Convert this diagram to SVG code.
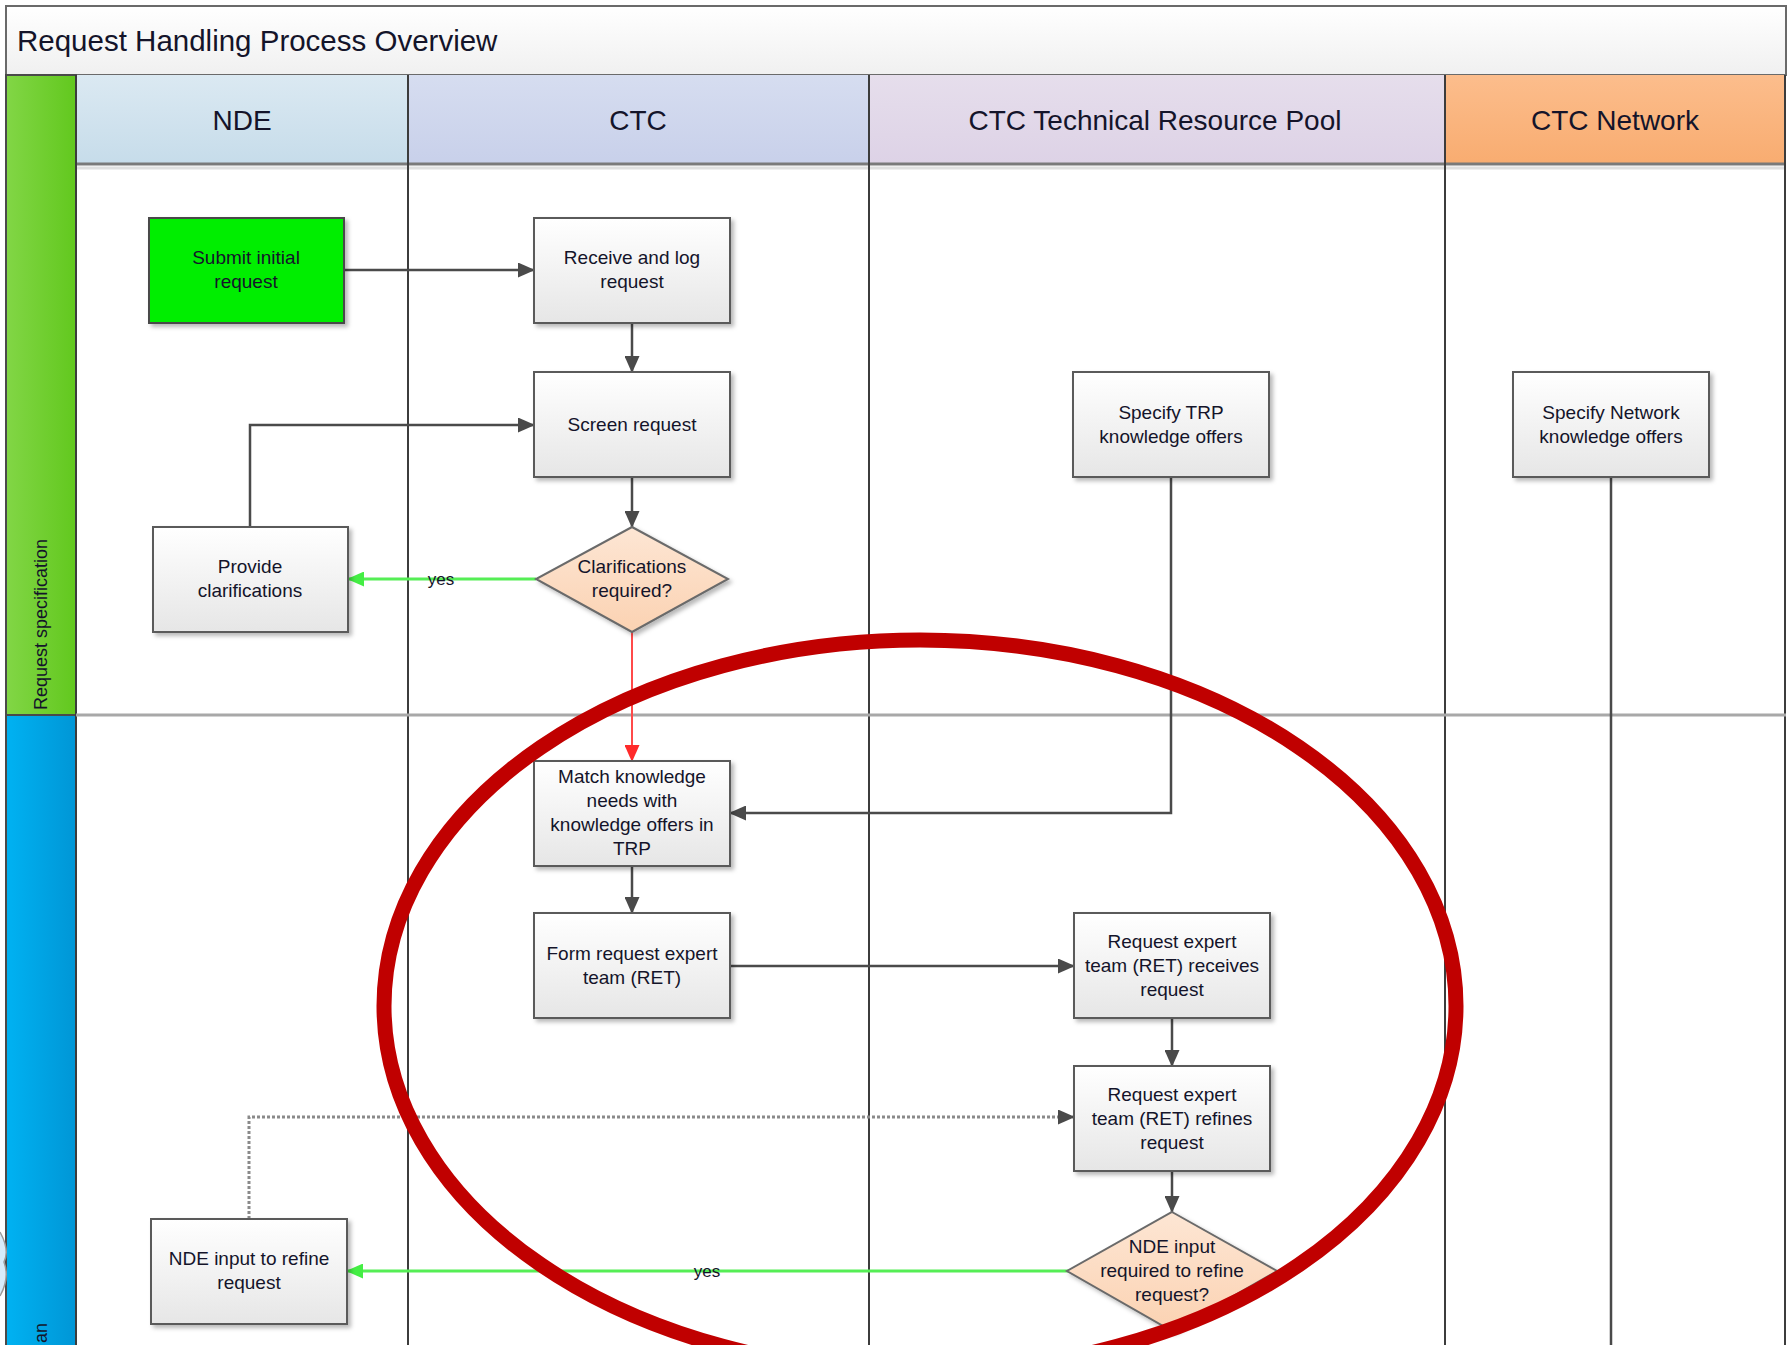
<svg xmlns="http://www.w3.org/2000/svg" width="1788" height="1345" viewBox="0 0 1788 1345">
<defs>
<style>
.t{font-family:"Liberation Sans",Arial,sans-serif;fill:#14142a;}
.node{font-size:19px;text-anchor:middle;}
.hdr{font-size:28px;text-anchor:middle;}
.box{fill:url(#gBox);stroke:#5a5a5a;stroke-width:2;filter:url(#sh);}
.dia{fill:url(#gDia);stroke:#6a6a6a;stroke-width:2;filter:url(#sh);}
.c{fill:none;stroke:#4a4a4a;stroke-width:2.5;}
.cg{fill:none;stroke:#55ee55;stroke-width:3;}
.cr{fill:none;stroke:#ff4a4a;stroke-width:2;}
.cd{fill:none;stroke:#8a8a8a;stroke-width:3;stroke-dasharray:3 2;}
.lane{stroke:#3c3c3c;stroke-width:2;}
</style>
<linearGradient id="gBox" x1="0" y1="0" x2="0" y2="1"><stop offset="0" stop-color="#ffffff"/><stop offset="1" stop-color="#e6e6e6"/></linearGradient>
<linearGradient id="gDia" x1="0" y1="0" x2="0" y2="1"><stop offset="0" stop-color="#fde6d4"/><stop offset="1" stop-color="#fbd2b2"/></linearGradient>
<linearGradient id="gTitle" x1="0" y1="0" x2="0" y2="1"><stop offset="0" stop-color="#ffffff"/><stop offset="1" stop-color="#f0f0f0"/></linearGradient>
<linearGradient id="gGreen" x1="0" y1="0" x2="1" y2="0"><stop offset="0" stop-color="#82d646"/><stop offset="1" stop-color="#62c81e"/></linearGradient>
<linearGradient id="gBlue" x1="0" y1="0" x2="1" y2="0"><stop offset="0" stop-color="#00b2f2"/><stop offset="1" stop-color="#0096d6"/></linearGradient>
<linearGradient id="gNDE" x1="0" y1="0" x2="0" y2="1"><stop offset="0" stop-color="#dbe9f2"/><stop offset="1" stop-color="#c6dcea"/></linearGradient>
<linearGradient id="gCTC" x1="0" y1="0" x2="0" y2="1"><stop offset="0" stop-color="#d6ddf0"/><stop offset="1" stop-color="#c8d0ea"/></linearGradient>
<linearGradient id="gTRP" x1="0" y1="0" x2="0" y2="1"><stop offset="0" stop-color="#e6deec"/><stop offset="1" stop-color="#ddd2e6"/></linearGradient>
<linearGradient id="gNET" x1="0" y1="0" x2="0" y2="1"><stop offset="0" stop-color="#fcbd8c"/><stop offset="1" stop-color="#f8ac70"/></linearGradient>
<filter id="sh" x="-10%" y="-10%" width="130%" height="130%"><feDropShadow dx="3" dy="3" stdDeviation="2" flood-color="#000" flood-opacity="0.28"/></filter>
<marker id="aK" markerUnits="userSpaceOnUse" markerWidth="17" markerHeight="15" refX="16" refY="7.5" orient="auto"><path d="M0,0 L17,7.5 L0,15 Z" fill="#4a4a4a"/></marker>
<marker id="aG" markerUnits="userSpaceOnUse" markerWidth="17" markerHeight="15" refX="16" refY="7.5" orient="auto"><path d="M0,0 L17,7.5 L0,15 Z" fill="#44ee44"/></marker>
<marker id="aR" markerUnits="userSpaceOnUse" markerWidth="17" markerHeight="15" refX="16" refY="7.5" orient="auto"><path d="M0,0 L17,7.5 L0,15 Z" fill="#ff2a2a"/></marker>
</defs>

<rect x="0" y="0" width="1788" height="1345" fill="#ffffff"/>

<g id="frame">
<rect x="6" y="6" width="1780" height="69" fill="url(#gTitle)" stroke="#6a6a6a" stroke-width="2"/>
<text class="t" x="17" y="51" font-size="29.5">Request Handling Process Overview</text>
<rect x="6" y="75" width="70" height="640" fill="url(#gGreen)" stroke="#4a4a4a" stroke-width="2"/>
<rect x="6" y="715" width="70" height="640" fill="url(#gBlue)" stroke="#4a4a4a" stroke-width="2"/>
<text class="t" font-size="18" transform="translate(47,710) rotate(-90)">Request specification</text>
<text class="t" font-size="18" text-anchor="end" transform="translate(47,1323) rotate(-90)">an</text>
<path d="M0,1232 Q10,1250 4,1262 Q10,1278 0,1296" fill="#d8ecfa" stroke="#9a9a9a" stroke-width="1.5"/>
</g>

<g id="headers">
<rect x="76" y="75" width="332" height="90" fill="url(#gNDE)"/>
<rect x="408" y="75" width="461" height="90" fill="url(#gCTC)"/>
<rect x="869" y="75" width="576" height="90" fill="url(#gTRP)"/>
<rect x="1445" y="75" width="341" height="90" fill="url(#gNET)"/>
<line x1="76" y1="164" x2="1786" y2="164" stroke="#7a7a7a" stroke-width="3"/>
<line x1="76" y1="168" x2="1786" y2="168" stroke="#e0e0e0" stroke-width="3"/>
<text class="t hdr" x="242" y="130">NDE</text>
<text class="t hdr" x="638" y="130">CTC</text>
<text class="t hdr" x="1155" y="130">CTC Technical Resource Pool</text>
<text class="t hdr" x="1615" y="130">CTC Network</text>
</g>

<g id="lanes">
<line class="lane" x1="76" y1="75" x2="76" y2="1345"/>
<line class="lane" x1="408" y1="75" x2="408" y2="1345"/>
<line class="lane" x1="869" y1="75" x2="869" y2="1345"/>
<line class="lane" x1="1445" y1="75" x2="1445" y2="1345"/>
<line class="lane" x1="1785" y1="75" x2="1785" y2="1345" stroke="#6a6a6a"/>
<line x1="76" y1="715" x2="1786" y2="715" stroke="#a8a8a8" stroke-width="3"/>
</g>

<g id="connectors">
<path class="c" d="M344,270 L534,270" marker-end="url(#aK)"/>
<path class="c" d="M632,323 L632,372" marker-end="url(#aK)"/>
<path class="c" d="M632,477 L632,527" marker-end="url(#aK)"/>
<path class="cg" d="M536,579 L348,579" marker-end="url(#aG)"/>
<text class="t" x="441" y="585" font-size="17" text-anchor="middle">yes</text>
<path class="c" d="M250,527 L250,425 L534,425" marker-end="url(#aK)"/>
<path class="cr" d="M632,632 L632,761" marker-end="url(#aR)"/>
<path class="c" d="M1171,477 L1171,813 L730,813" marker-end="url(#aK)"/>
<path class="c" d="M1611,477 L1611,1345" stroke-width="2"/>
<path class="c" d="M632,866 L632,913" marker-end="url(#aK)"/>
<path class="c" d="M730,966 L1074,966" marker-end="url(#aK)"/>
<path class="c" d="M1172,1018 L1172,1066" marker-end="url(#aK)"/>
<path class="cd" d="M249,1219 L249,1117 L1074,1117" marker-end="url(#aK)"/>
<path class="c" d="M1172,1171 L1172,1212" marker-end="url(#aK)"/>
<path class="cg" d="M1069,1271 L347,1271" marker-end="url(#aG)"/>
<text class="t" x="707" y="1277" font-size="17" text-anchor="middle">yes</text>
</g>

<g id="n_submit">
<rect x="149" y="218" width="195" height="105" fill="#00ee00" stroke="#4a4a4a" stroke-width="2" filter="url(#sh)"/>
<text class="t node" x="246" y="264">Submit initial</text>
<text class="t node" x="246" y="288">request</text>
</g>
<g id="n_receive">
<rect class="box" x="534" y="218" width="196" height="105"/>
<text class="t node" x="632" y="264">Receive and log</text>
<text class="t node" x="632" y="288">request</text>
</g>
<g id="n_screen">
<rect class="box" x="534" y="372" width="196" height="105"/>
<text class="t node" x="632" y="431">Screen request</text>
</g>
<g id="n_clarif">
<polygon class="dia" points="632,527 728,579 632,632 536,579"/>
<text class="t node" x="632" y="573">Clarifications</text>
<text class="t node" x="632" y="597">required?</text>
</g>
<g id="n_provide">
<rect class="box" x="153" y="527" width="195" height="105"/>
<text class="t node" x="250" y="573">Provide</text>
<text class="t node" x="250" y="597">clarifications</text>
</g>
<g id="n_trp">
<rect class="box" x="1073" y="372" width="196" height="105"/>
<text class="t node" x="1171" y="419">Specify TRP</text>
<text class="t node" x="1171" y="443">knowledge offers</text>
</g>
<g id="n_net">
<rect class="box" x="1513" y="372" width="196" height="105"/>
<text class="t node" x="1611" y="419">Specify Network</text>
<text class="t node" x="1611" y="443">knowledge offers</text>
</g>
<g id="n_match">
<rect class="box" x="534" y="761" width="196" height="105"/>
<text class="t node" x="632" y="783">Match knowledge</text>
<text class="t node" x="632" y="807">needs with</text>
<text class="t node" x="632" y="831">knowledge offers in</text>
<text class="t node" x="632" y="855">TRP</text>
</g>
<g id="n_form">
<rect class="box" x="534" y="913" width="196" height="105"/>
<text class="t node" x="632" y="960">Form request expert</text>
<text class="t node" x="632" y="984">team (RET)</text>
</g>
<g id="n_ret_recv">
<rect class="box" x="1074" y="913" width="196" height="105"/>
<text class="t node" x="1172" y="948">Request expert</text>
<text class="t node" x="1172" y="972">team (RET) receives</text>
<text class="t node" x="1172" y="996">request</text>
</g>
<g id="n_ret_refine">
<rect class="box" x="1074" y="1066" width="196" height="105"/>
<text class="t node" x="1172" y="1101">Request expert</text>
<text class="t node" x="1172" y="1125">team (RET) refines</text>
<text class="t node" x="1172" y="1149">request</text>
</g>
<g id="n_nde_q">
<polygon class="dia" points="1172,1212 1277,1271 1172,1331 1067,1271"/>
<text class="t node" x="1172" y="1253">NDE input</text>
<text class="t node" x="1172" y="1277">required to refine</text>
<text class="t node" x="1172" y="1301">request?</text>
</g>
<g id="n_nde_input">
<rect class="box" x="151" y="1219" width="196" height="105"/>
<text class="t node" x="249" y="1265">NDE input to refine</text>
<text class="t node" x="249" y="1289">request</text>
</g>

<g id="highlight">
<ellipse cx="920" cy="1006" rx="536" ry="366" fill="none" stroke="#c00000" stroke-width="15"/>
</g>
</svg>
